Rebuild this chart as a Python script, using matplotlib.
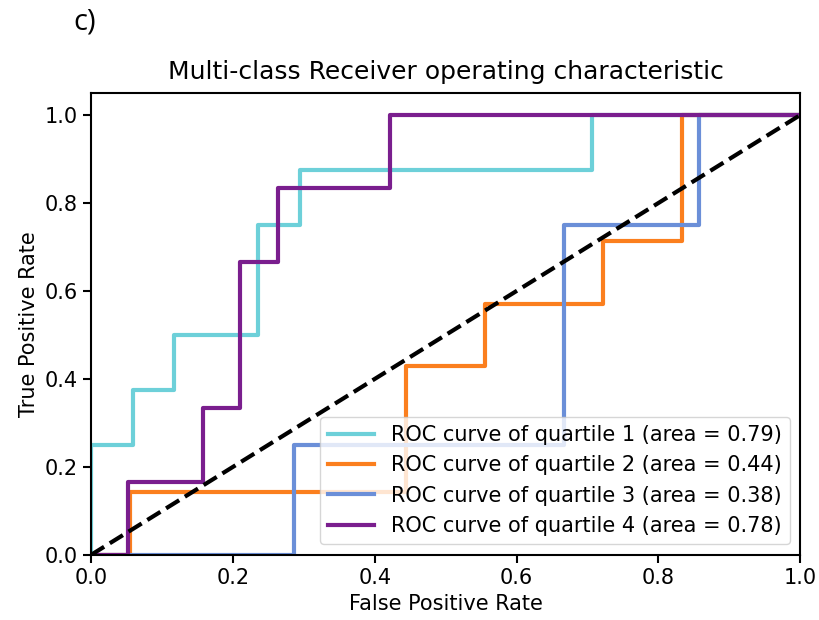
import numpy as np
import matplotlib.pyplot as plt

# ROC step curves (fpr, tpr)
fpr_q1 = [0, 0, 1/17, 1/17, 2/17, 2/17, 4/17, 4/17, 5/17, 5/17, 12/17, 12/17, 1]
tpr_q1 = [0, 0.25, 0.25, 0.375, 0.375, 0.5, 0.5, 0.75, 0.75, 0.875, 0.875, 1, 1]

fpr_q2 = [0, 1/18, 1/18, 8/18, 8/18, 10/18, 10/18, 13/18, 13/18, 15/18, 15/18, 1]
tpr_q2 = [0, 0, 1/7, 1/7, 3/7, 3/7, 4/7, 4/7, 5/7, 5/7, 1, 1]

fpr_q3 = [0, 6/21, 6/21, 14/21, 14/21, 18/21, 18/21, 1]
tpr_q3 = [0, 0, 0.25, 0.25, 0.75, 0.75, 1, 1]

fpr_q4 = [0, 1/19, 1/19, 3/19, 3/19, 4/19, 4/19, 5/19, 5/19, 8/19, 8/19, 1]
tpr_q4 = [0, 0, 1/6, 1/6, 2/6, 2/6, 4/6, 4/6, 5/6, 5/6, 1, 1]

aucs = [0.79, 0.44, 0.38, 0.78]
colors = ['#6dd0d9', '#fb7f1e', '#6b8fd8', '#7a1e8e']

fig = plt.figure(figsize=(8.2, 6.2), dpi=100)
ax = fig.add_axes([0.111, 0.105, 0.865, 0.745])

curves = [(fpr_q1, tpr_q1), (fpr_q2, tpr_q2), (fpr_q3, tpr_q3), (fpr_q4, tpr_q4)]
for i, (f, t) in enumerate(curves):
    ax.plot(f, t, color=colors[i], lw=3,
            label='ROC curve of quartile {0} (area = {1:0.2f})'.format(i + 1, aucs[i]))

ax.plot([0, 1], [0, 1], 'k--', lw=3)
ax.set_xlim([0.0, 1.0])
ax.set_ylim([0.0, 1.05])
ax.set_xticks([0, 0.2, 0.4, 0.6, 0.8, 1.0])
ax.set_yticks([0, 0.2, 0.4, 0.6, 0.8, 1.0])
ax.tick_params(labelsize=15, width=1.5, length=6)
for s in ax.spines.values():
    s.set_linewidth(1.5)
ax.set_xlabel('False Positive Rate', fontsize=15)
ax.set_ylabel('True Positive Rate', fontsize=15)
ax.set_title('Multi-class Receiver operating characteristic', fontsize=18, pad=10)
ax.legend(loc='lower right', fontsize=15, handlelength=2.2, borderpad=0.4, labelspacing=0.5)

fig.text(0.09, 0.965, 'c)', fontsize=21, family='Open Sans', va='center')

fig.savefig('out.png', dpi=100)
